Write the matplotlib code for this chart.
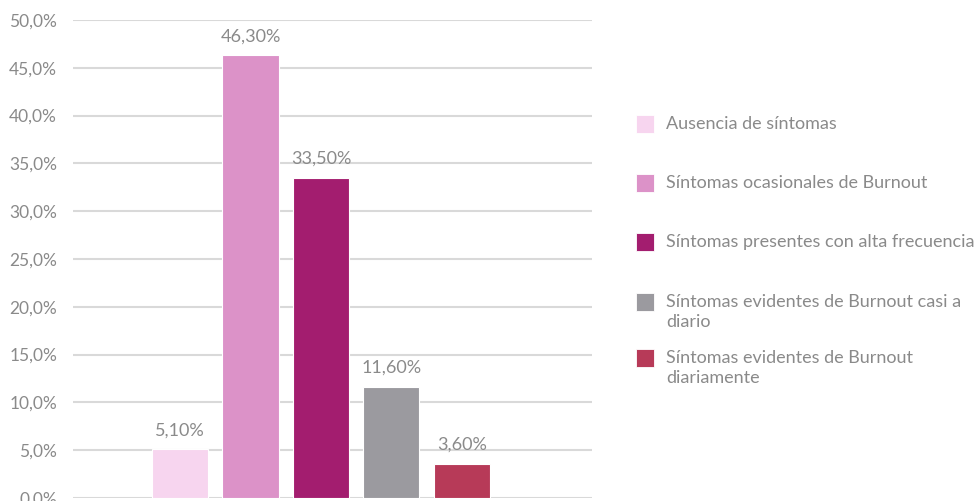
import matplotlib.pyplot as plt
from matplotlib.patches import Rectangle
from matplotlib.ticker import FuncFormatter

categories = ['Ausencia de síntomas',
              'Síntomas ocasionales de Burnout',
              'Síntomas presentes con alta frecuencia',
              'Síntomas evidentes de Burnout casi a\ndiario',
              'Síntomas evidentes de Burnout\ndiariamente']
values = [5.1, 46.3, 33.5, 11.6, 3.6]
value_labels = ['5,10%', '46,30%', '33,50%', '11,60%', '3,60%']
colors = ['#f7d5ef', '#dc92c8', '#a31d6f', '#9b9a9f', '#b73a58']
yticks = [0, 5, 10, 15, 20, 25, 30, 35, 40, 45, 50]

grey = '#8a8a8a'
plt.rcParams['font.family'] = ['Lato', 'DejaVu Sans']

W, H = 974, 501
fig = plt.figure(figsize=(W / 100, H / 100), dpi=100)
ax = fig.add_axes([73 / W, 3 / H, (592 - 73) / W, (498 - 20) / H])

x = list(range(len(values)))
ax.bar(x, values, width=0.8, color=colors, edgecolor='white', linewidth=0.8, zorder=3)
for xi, v, lab in zip(x, values, value_labels):
    ax.annotate(lab, (xi, v), xytext=(0, 8), textcoords='offset points',
                ha='center', va='bottom', fontsize=13, color=grey)

ax.set_xlim(-1.52, 5.85)
ax.set_ylim(0, 50)
ax.set_yticks(yticks)
ax.yaxis.set_major_formatter(FuncFormatter(lambda v, p: '{:.1f}%'.format(v).replace('.', ',')))
ax.tick_params(axis='y', length=0, pad=11.5, labelsize=12.5, labelcolor=grey)
ax.set_xticks([])
ax.grid(axis='y', color='#d9d9d9', linewidth=1.5, zorder=0)
for s in ax.spines.values():
    s.set_visible(False)

# legend drawn by hand to match the uneven spacing
tops = [115, 174, 233, 293, 349]
for top, c, name in zip(tops, colors, categories):
    fig.patches.append(Rectangle((636 / W, 1 - (top + 18) / H), 18 / W, 18 / H,
                                 transform=fig.transFigure, facecolor=c,
                                 edgecolor='white', linewidth=0.6))
    fig.text(666 / W, 1 - (top + 1) / H, name, ha='left', va='top',
             fontsize=13, color=grey, linespacing=1.3)

fig.savefig('out.png', dpi=100)
